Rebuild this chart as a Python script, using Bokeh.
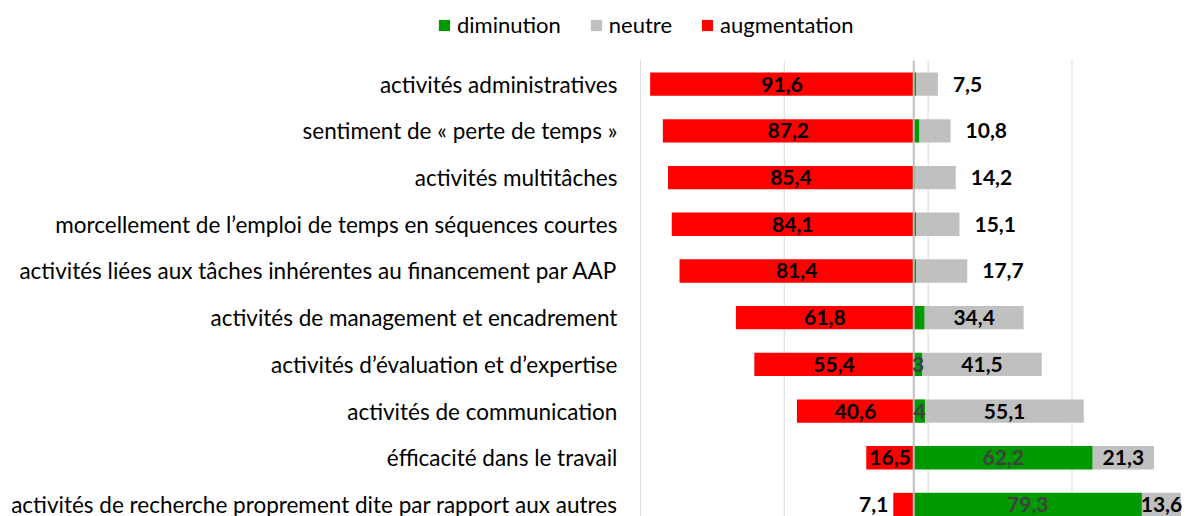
from bokeh.plotting import figure
from bokeh.models import Range1d, ColumnDataSource, Legend, LegendItem
from bokeh.core.properties import value
from bokeh.embed import file_html
from bokeh.resources import INLINE

categories = [
    "activités administratives",
    "sentiment de « perte de temps »",
    "activités multitâches",
    "morcellement de l’emploi de temps en séquences courtes",
    "activités liées aux tâches inhérentes au financement par AAP",
    "activités de management et encadrement",
    "activités d’évaluation et d’expertise",
    "activités de communication",
    "éfficacité dans le travail",
    "activités de recherche proprement dite par rapport aux autres",
]
augmentation = [91.6, 87.2, 85.4, 84.1, 81.4, 61.8, 55.4, 40.6, 16.5, 7.1]
diminution = [0.9, 2.0, 0.4, 0.8, 0.9, 3.8, 3, 4, 62.2, 79.3]
neutre = [7.5, 10.8, 14.2, 15.1, 17.7, 34.4, 41.5, 55.1, 21.3, 13.6]
diminution_labels = ["", "", "", "", "", "", "3", "4", "62,2", "79,3"]
grid_ticks = [-95, -45, 5, 55]
axis_min = -95

RED = "#FF0000"
GREEN = "#009900"
GRAY = "#C0C0C0"
FONT = "Lato"


def fmt(v):
    return f"{v:.1f}".replace(".", ",")


n = len(categories)
ys = list(range(n))
src = ColumnDataSource(dict(
    y=ys,
    cat=categories,
    aug_left=[-a for a in augmentation],
    aug_mid=[-a / 2 for a in augmentation],
    aug_txt=[fmt(a) for a in augmentation],
    dim_right=diminution,
    dim_mid=[d / 2 for d in diminution],
    dim_txt=diminution_labels,
    neu_right=[d + g for d, g in zip(diminution, neutre)],
    neu_mid=[d + g / 2 for d, g in zip(diminution, neutre)],
    neu_txt=[fmt(g) for g in neutre],
))

p = figure(width=1186, height=516, output_backend="svg", toolbar_location=None,
           x_range=Range1d(-317.4, 94.8), y_range=Range1d(9.257, -1.792),
           x_axis_location=None, y_axis_location=None,
           min_border_left=0, min_border_right=0,
           min_border_top=0, min_border_bottom=0)
p.outline_line_color = None
p.background_fill_color = "white"
p.xgrid.grid_line_color = None
p.ygrid.grid_line_color = None

# vertical gridlines, starting at the top of the first category band
top = -0.5
bottom = n + 1
p.segment(x0=grid_ticks, x1=grid_ticks, y0=[top] * len(grid_ticks), y1=[bottom] * len(grid_ticks),
          line_color="#D9D9D9", line_width=1)

r_red = p.hbar(y="y", left="aug_left", right=0, height=0.5, color=RED, line_color=None, source=src)
r_green = p.hbar(y="y", left=0, right="dim_right", height=0.5, color=GREEN, line_color=None, source=src)
r_gray = p.hbar(y="y", left="dim_right", right="neu_right", height=0.5, color=GRAY, line_color=None, source=src)

# zero axis line
p.segment(x0=[0], x1=[0], y0=[top], y1=[bottom], line_color="#BFBFBF", line_width=2)

# category labels
p.text(x=axis_min, y="y", text="cat", source=src, x_offset=-23, text_align="right",
       text_baseline="middle", text_font=value(FONT), text_font_size="22.5px", text_color="#000000")

common = dict(text_font=value(FONT), text_font_style="bold", text_font_size="21px",
              text_baseline="middle")
# red labels
inside_red = [i for i in ys if augmentation[i] >= 10]
outside_red = [i for i in ys if augmentation[i] < 10]
p.text(x=[src.data["aug_mid"][i] for i in inside_red], y=inside_red,
       text=[src.data["aug_txt"][i] for i in inside_red], text_align="center",
       text_color="#000000", **common)
p.text(x=[src.data["aug_left"][i] for i in outside_red], y=outside_red,
       text=[src.data["aug_txt"][i] for i in outside_red], text_align="right",
       x_offset=-5, text_color="#000000", **common)
# green labels
p.text(x="dim_mid", y="y", text="dim_txt", text_align="center", text_color="#404040",
       source=src, **common)
# gray labels
outside_gray = ys[:5]
inside_gray = ys[5:]
p.text(x=[src.data["neu_right"][i] for i in outside_gray], y=outside_gray,
       text=[src.data["neu_txt"][i] for i in outside_gray], text_align="left",
       x_offset=15, text_color="#000000", **common)
p.text(x=[src.data["neu_mid"][i] for i in inside_gray], y=inside_gray,
       text=[src.data["neu_txt"][i] for i in inside_gray], text_align="center",
       text_color="#000000", **common)

legend = Legend(items=[
    LegendItem(label="diminution", renderers=[r_green]),
    LegendItem(label="neutre", renderers=[r_gray]),
    LegendItem(label="augmentation", renderers=[r_red]),
], orientation="horizontal", location=(437, 478))
legend.border_line_color = None
legend.background_fill_alpha = 0
legend.padding = 0
legend.margin = 0
legend.spacing = 28
legend.glyph_width = 14
legend.glyph_height = 14
legend.label_standoff = 6
legend.label_text_font = FONT
legend.label_text_font_size = "22px"
legend.label_height = 20
legend.label_text_color = "#000000"
p.add_layout(legend, "center")

open("out.html", "w").write(file_html(p, INLINE))
